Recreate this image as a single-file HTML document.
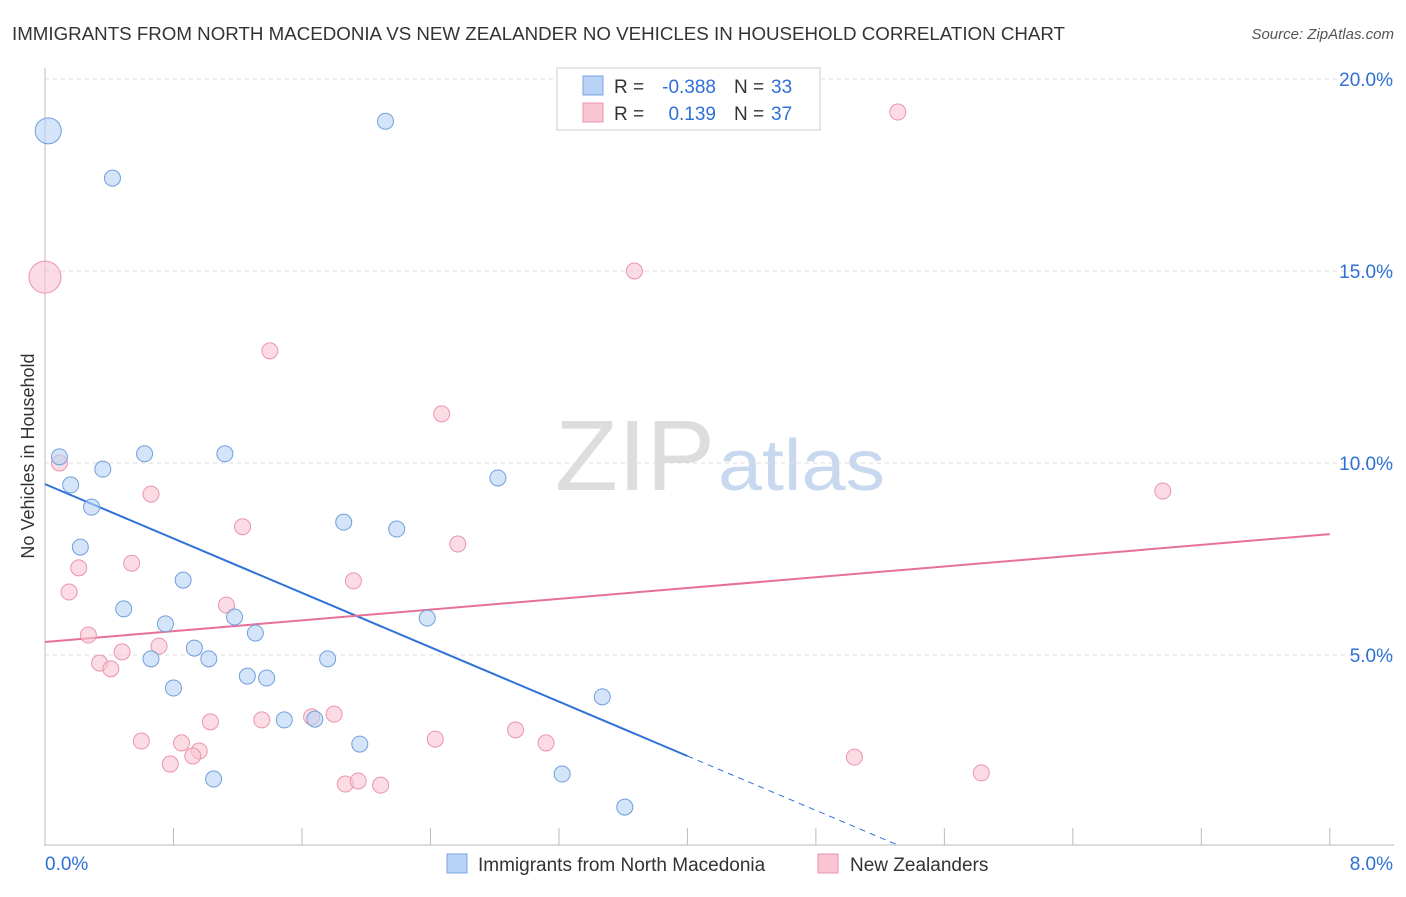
<!DOCTYPE html>
<html><head><meta charset="utf-8"><style>
body{margin:0;background:#fff;font-family:"Liberation Sans",sans-serif;}
svg text{font-family:"Liberation Sans",sans-serif;}
</style></head><body>
<svg id="chart" width="1406" height="892" xmlns="http://www.w3.org/2000/svg">
<text x="12" y="40" font-size="18" fill="#333" textLength="1053" lengthAdjust="spacingAndGlyphs">IMMIGRANTS FROM NORTH MACEDONIA VS NEW ZEALANDER NO VEHICLES IN HOUSEHOLD CORRELATION CHART</text>
<text x="1394" y="39" font-size="15" fill="#555" text-anchor="end" font-style="italic">Source: ZipAtlas.com</text>
<text x="555" y="490" font-size="100" fill="#ddd" font-family="Liberation Serif" textLength="160" lengthAdjust="spacingAndGlyphs">ZIP</text>
<text x="718" y="490" font-size="72" fill="#c8d8ee" textLength="167" lengthAdjust="spacingAndGlyphs">atlas</text>
<text transform="translate(34,456) rotate(-90)" font-size="18" fill="#333" text-anchor="middle">No Vehicles in Household</text>
<g id="grid"></g><g id="axes"></g><g id="lines"></g><g id="points"></g>
<g>
<rect x="557" y="68" width="263" height="62" fill="#fff" stroke="#ccc"/>
<rect x="583" y="76" width="20" height="19" fill="#b8d3f5" stroke="#7aa6e0"/>
<rect x="583" y="103" width="20" height="19" fill="#f9c5d3" stroke="#ec93ad"/>
<text x="614" y="93" font-size="19" fill="#333">R =</text>
<text x="716" y="93" font-size="19" fill="#2f6fd6" text-anchor="end">-0.388</text>
<text x="734" y="93" font-size="19" fill="#333">N =</text>
<text x="771" y="93" font-size="19" fill="#2f6fd6">33</text>
<text x="614" y="120" font-size="19" fill="#333">R =</text>
<text x="716" y="120" font-size="19" fill="#2f6fd6" text-anchor="end">0.139</text>
<text x="734" y="120" font-size="19" fill="#333">N =</text>
<text x="771" y="120" font-size="19" fill="#2f6fd6">37</text>
</g>
<g>
<rect x="447" y="854" width="20" height="19" fill="#b8d3f5" stroke="#7aa6e0"/>
<text x="478" y="871" font-size="19" fill="#333">Immigrants from North Macedonia</text>
<rect x="818" y="854" width="20" height="19" fill="#f9c5d3" stroke="#ec93ad"/>
<text x="850" y="871" font-size="19" fill="#333">New Zealanders</text>
</g>
</svg>
<script>
const blueX=[0.02,2.12,0.42,0.09,0.62,1.12,0.36,0.16,2.82,0.29,1.86,2.19,0.22,0.86,0.49,1.18,2.38,0.75,1.31,0.93,0.66,1.02,1.76,1.26,1.38,0.80,3.47,1.49,1.68,1.96,1.05,3.22,3.61];
const blueY=[18.65,18.9,17.42,10.16,10.24,10.24,9.84,9.43,9.61,8.85,8.46,8.28,7.81,6.95,6.20,5.99,5.96,5.81,5.57,5.18,4.90,4.90,4.90,4.45,4.40,4.14,3.91,3.31,3.33,2.68,1.77,1.90,1.04];
const blueR=[13,8,8,8,8,8,8,8,8,8,8,8,8,8,8,8,8,8,8,8,8,8,8,8,8,8,8,8,8,8,8,8,8];
const pinkX=[0.0,5.31,3.67,1.40,2.47,0.09,6.96,0.66,1.23,2.57,0.54,0.21,1.92,0.15,1.13,0.27,0.71,0.48,0.34,0.41,1.03,1.35,1.66,1.80,0.60,0.85,2.43,2.93,3.12,0.96,0.92,0.78,5.04,5.83,1.87,1.95,2.09];
const pinkY=[14.84,19.14,15.0,12.92,11.28,10.0,9.27,9.19,8.34,7.89,7.39,7.27,6.93,6.64,6.30,5.52,5.23,5.08,4.79,4.64,3.26,3.31,3.39,3.46,2.76,2.71,2.81,3.05,2.71,2.50,2.37,2.16,2.34,1.93,1.64,1.72,1.61];
const pinkR=[16,8,8,8,8,8,8,8,8,8,8,8,8,8,8,8,8,8,8,8,8,8,8,8,8,8,8,8,8,8,8,8,8,8,8,8,8];
const xTicks=[0,0.8,1.6,2.4,3.2,4.0,4.8,5.6,6.4,7.2,8.0];
const yTicks=[5,10,15,20];
const yTickLabels=["5.0%","10.0%","15.0%","20.0%"];
const blueTrend=[9.45,-1.77,4.0,5.3];
const pinkTrend=[5.34,0.351];
const NS="http://www.w3.org/2000/svg";
const X=v=>45+v*160.6, Y=v=>847-v*38.4;
function mk(tag,at,parent){const e=document.createElementNS(NS,tag);for(const k in at)e.setAttribute(k,at[k]);document.getElementById(parent).appendChild(e);return e;}
yTicks.forEach((t,i)=>{
 const g=mk('line',{x1:45,x2:1394,y1:Y(t),y2:Y(t),stroke:'#ddd','stroke-dasharray':'4,4'},'grid');
 
 
 const l=mk('text',{x:1393,y:Y(t)+7,'font-size':19,fill:'#2f6fd6','text-anchor':'end'},'axes');
 l.textContent=yTickLabels[i];
 
 
});
const topGrid=mk('line',{x1:45,x2:1394,y1:79,y2:79,stroke:'#ddd','stroke-dasharray':'4,4'},'grid');


const ya=mk('line',{x1:45,x2:45,y1:68,y2:846,stroke:'#bbb'},'axes');


const xa=mk('line',{x1:45,x2:1394,y1:845,y2:845,stroke:'#bbb'},'axes');


xTicks.forEach(t=>{
 const k=mk('line',{x1:X(t),x2:X(t),y1:828,y2:845,stroke:'#bbb'},'axes');
 
 
});
const xl0=mk('text',{x:45,y:870,'font-size':19,fill:'#2f6fd6'},'axes');xl0.textContent=xTicks[0].toFixed(1)+'%';


const xl1=mk('text',{x:1393,y:870,'font-size':19,fill:'#2f6fd6','text-anchor':'end'},'axes');xl1.textContent=xTicks[xTicks.length-1].toFixed(1)+'%';


function dots(xs,ys,rs,fill,stroke,name){xs.forEach((x,i)=>{
 const c=mk('circle',{cx:X(x),cy:Y(ys[i]),r:rs[i],fill:fill,stroke:stroke,'stroke-width':1,'fill-opacity':0.6},'points');
 
 
});}
dots(pinkX,pinkY,pinkR,'#f9c5d3','#ec93ad','pink-point');
dots(blueX,blueY,blueR,'#b8d3f5','#6f9fdc','blue-point');
const bl=mk('line',{x1:X(0),y1:Y(blueTrend[0]),x2:X(blueTrend[2]),y2:Y(blueTrend[0]+blueTrend[1]*blueTrend[2]),stroke:'#2f72d8','stroke-width':2},'lines');


const bd=mk('line',{x1:X(blueTrend[2]),y1:Y(blueTrend[0]+blueTrend[1]*blueTrend[2]),x2:X(blueTrend[3]),y2:Y(blueTrend[0]+blueTrend[1]*blueTrend[3]),stroke:'#2f72d8','stroke-width':1,'stroke-dasharray':'6,5'},'lines');


const pl=mk('line',{x1:X(0),y1:Y(pinkTrend[0]),x2:X(8),y2:Y(pinkTrend[0]+pinkTrend[1]*8),stroke:'#e7709a','stroke-width':2},'lines');


</script>
</body></html>
